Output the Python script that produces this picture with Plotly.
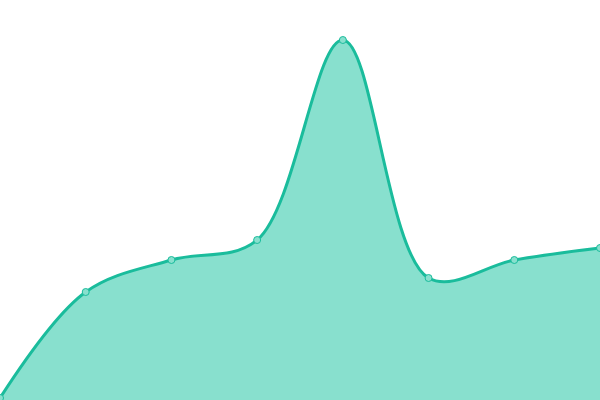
import plotly.graph_objects as go

x_values = [0, 1, 2, 3, 4, 5, 6, 7]
y_values = [0.5, 27, 35, 40, 90, 30.5, 35, 38]

fig = go.Figure()
fig.add_trace(go.Scatter(
    x=x_values, y=y_values,
    mode="lines+markers",
    fill="tozeroy",
    fillcolor="#88e0ce",
    line=dict(color="#1abc9c", width=3, shape="spline", smoothing=1),
    marker=dict(size=7, color="#88e0ce", line=dict(color="#1abc9c", width=1)),
))

fig.update_layout(
    width=600, height=400,
    margin=dict(l=0, r=0, t=0, b=0),
    paper_bgcolor="white", plot_bgcolor="white",
    showlegend=False,
    xaxis=dict(range=[0, 7], visible=False),
    yaxis=dict(range=[0, 100], visible=False),
)

# drop the default body margin so the chart sits flush with the window
fig.write_html("out.html", config={"displayModeBar": False},
               post_script="document.body.style.margin='0';")
